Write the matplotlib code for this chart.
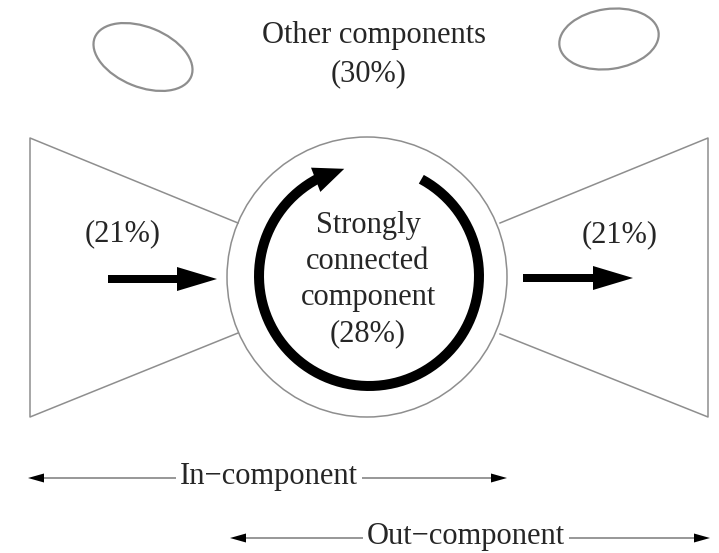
import numpy as np
import matplotlib.pyplot as plt
from matplotlib.patches import Ellipse, Circle

plt.rcParams['font.family'] = ['Liberation Serif', 'DejaVu Serif']

# bow-tie structure of the web graph, share of nodes in each part
other_label = "Other components"
scc_lines = ["Strongly", "connected", "component"]
span_labels = ["In\u2212component", "Out\u2212component"]
share_other = 30
share_in = 21
share_scc = 28
share_out = 21

W, H = 719, 553
fig = plt.figure(figsize=(W / 100, H / 100), dpi=100)
ax = fig.add_axes([0, 0, 1, 1])
ax.set_xlim(0, W)
ax.set_ylim(H, 0)
ax.axis('off')

grey = '#8e8e8e'
ink = '#262626'
fs = 22

# core circle
cx, cy, R = 367, 277, 140
ax.add_patch(Circle((cx, cy), R, fill=False, ec=grey, lw=1.1))

# in / out wings
ax.plot([238, 30, 30, 238], [223, 138, 417, 333], color=grey, lw=1.1)
ax.plot([500, 708, 708, 500], [223, 138, 417, 334], color=grey, lw=1.1)

# little blobs for other components
ax.add_patch(Ellipse((143, 57), 104, 60, angle=22, fill=False, ec=grey, lw=1.6))
ax.add_patch(Ellipse((609, 39), 100, 60, angle=-8, fill=False, ec=grey, lw=1.6))

# thick flow arrows
ax.arrow(108, 279, 109, 0, width=8, head_width=24, head_length=40,
         length_includes_head=True, fc='black', ec='black', lw=0)
ax.arrow(523, 278, 110, 0, width=8, head_width=24, head_length=40,
         length_includes_head=True, fc='black', ec='black', lw=0)

# circular arrow inside the core
ra, ax0, ay0 = 110, 369, 276
t_start, t_end, t_head = 61.6, -257.0, 16.0
t = np.radians(np.linspace(t_start, t_end + t_head - 1.5, 300))
ax.plot(ax0 + ra * np.cos(t), ay0 - ra * np.sin(t), color='black', lw=7.2,
        solid_capstyle='butt')
tb, tt = np.radians(t_end + t_head), np.radians(t_end)
xb, yb = ax0 + ra * np.cos(tb), ay0 - ra * np.sin(tb)
xt, yt = ax0 + ra * np.cos(tt), ay0 - ra * np.sin(tt)
ax.arrow(xb, yb, xt - xb, yt - yb, width=0, head_width=26,
         head_length=np.hypot(xt - xb, yt - yb), length_includes_head=True,
         fc='black', ec='black', lw=0)

# labels
ax.text(374, 43, other_label, ha='center', va='baseline', fontsize=fs, color=ink)
ax.text(369, 81, "(%d%%)" % share_other, ha='center', va='baseline', fontsize=fs, color=ink)
ax.text(123, 241, "(%d%%)" % share_in, ha='center', va='baseline', fontsize=fs, color=ink)
ax.text(620, 242, "(%d%%)" % share_out, ha='center', va='baseline', fontsize=fs, color=ink)
for i, line in enumerate(scc_lines + ["(%d%%)" % share_scc]):
    ax.text(368, 233 + 36 * i, line, ha='center', va='baseline', fontsize=fs, color=ink)

# span arrows at the bottom
spans = [(28, 507, 478, 269), (230, 710, 538, 466)]
for (x0, x1, y, xm), lab in zip(spans, span_labels):
    ax.plot([x0 + 10, x1 - 10], [y, y], color='#7a7a7a', lw=1.1, zorder=1)
    ax.arrow(x0 + 16, y, -16, 0, width=0, head_width=9, head_length=16,
             length_includes_head=True, fc='black', ec='black', lw=0, zorder=2)
    ax.arrow(x1 - 16, y, 16, 0, width=0, head_width=9, head_length=16,
             length_includes_head=True, fc='black', ec='black', lw=0, zorder=2)
    ax.text(xm, y + 6, lab, ha='center', va='baseline', fontsize=fs, color=ink,
            zorder=3, bbox=dict(fc='white', ec='none', pad=3))

fig.savefig('out.png', dpi=100)
